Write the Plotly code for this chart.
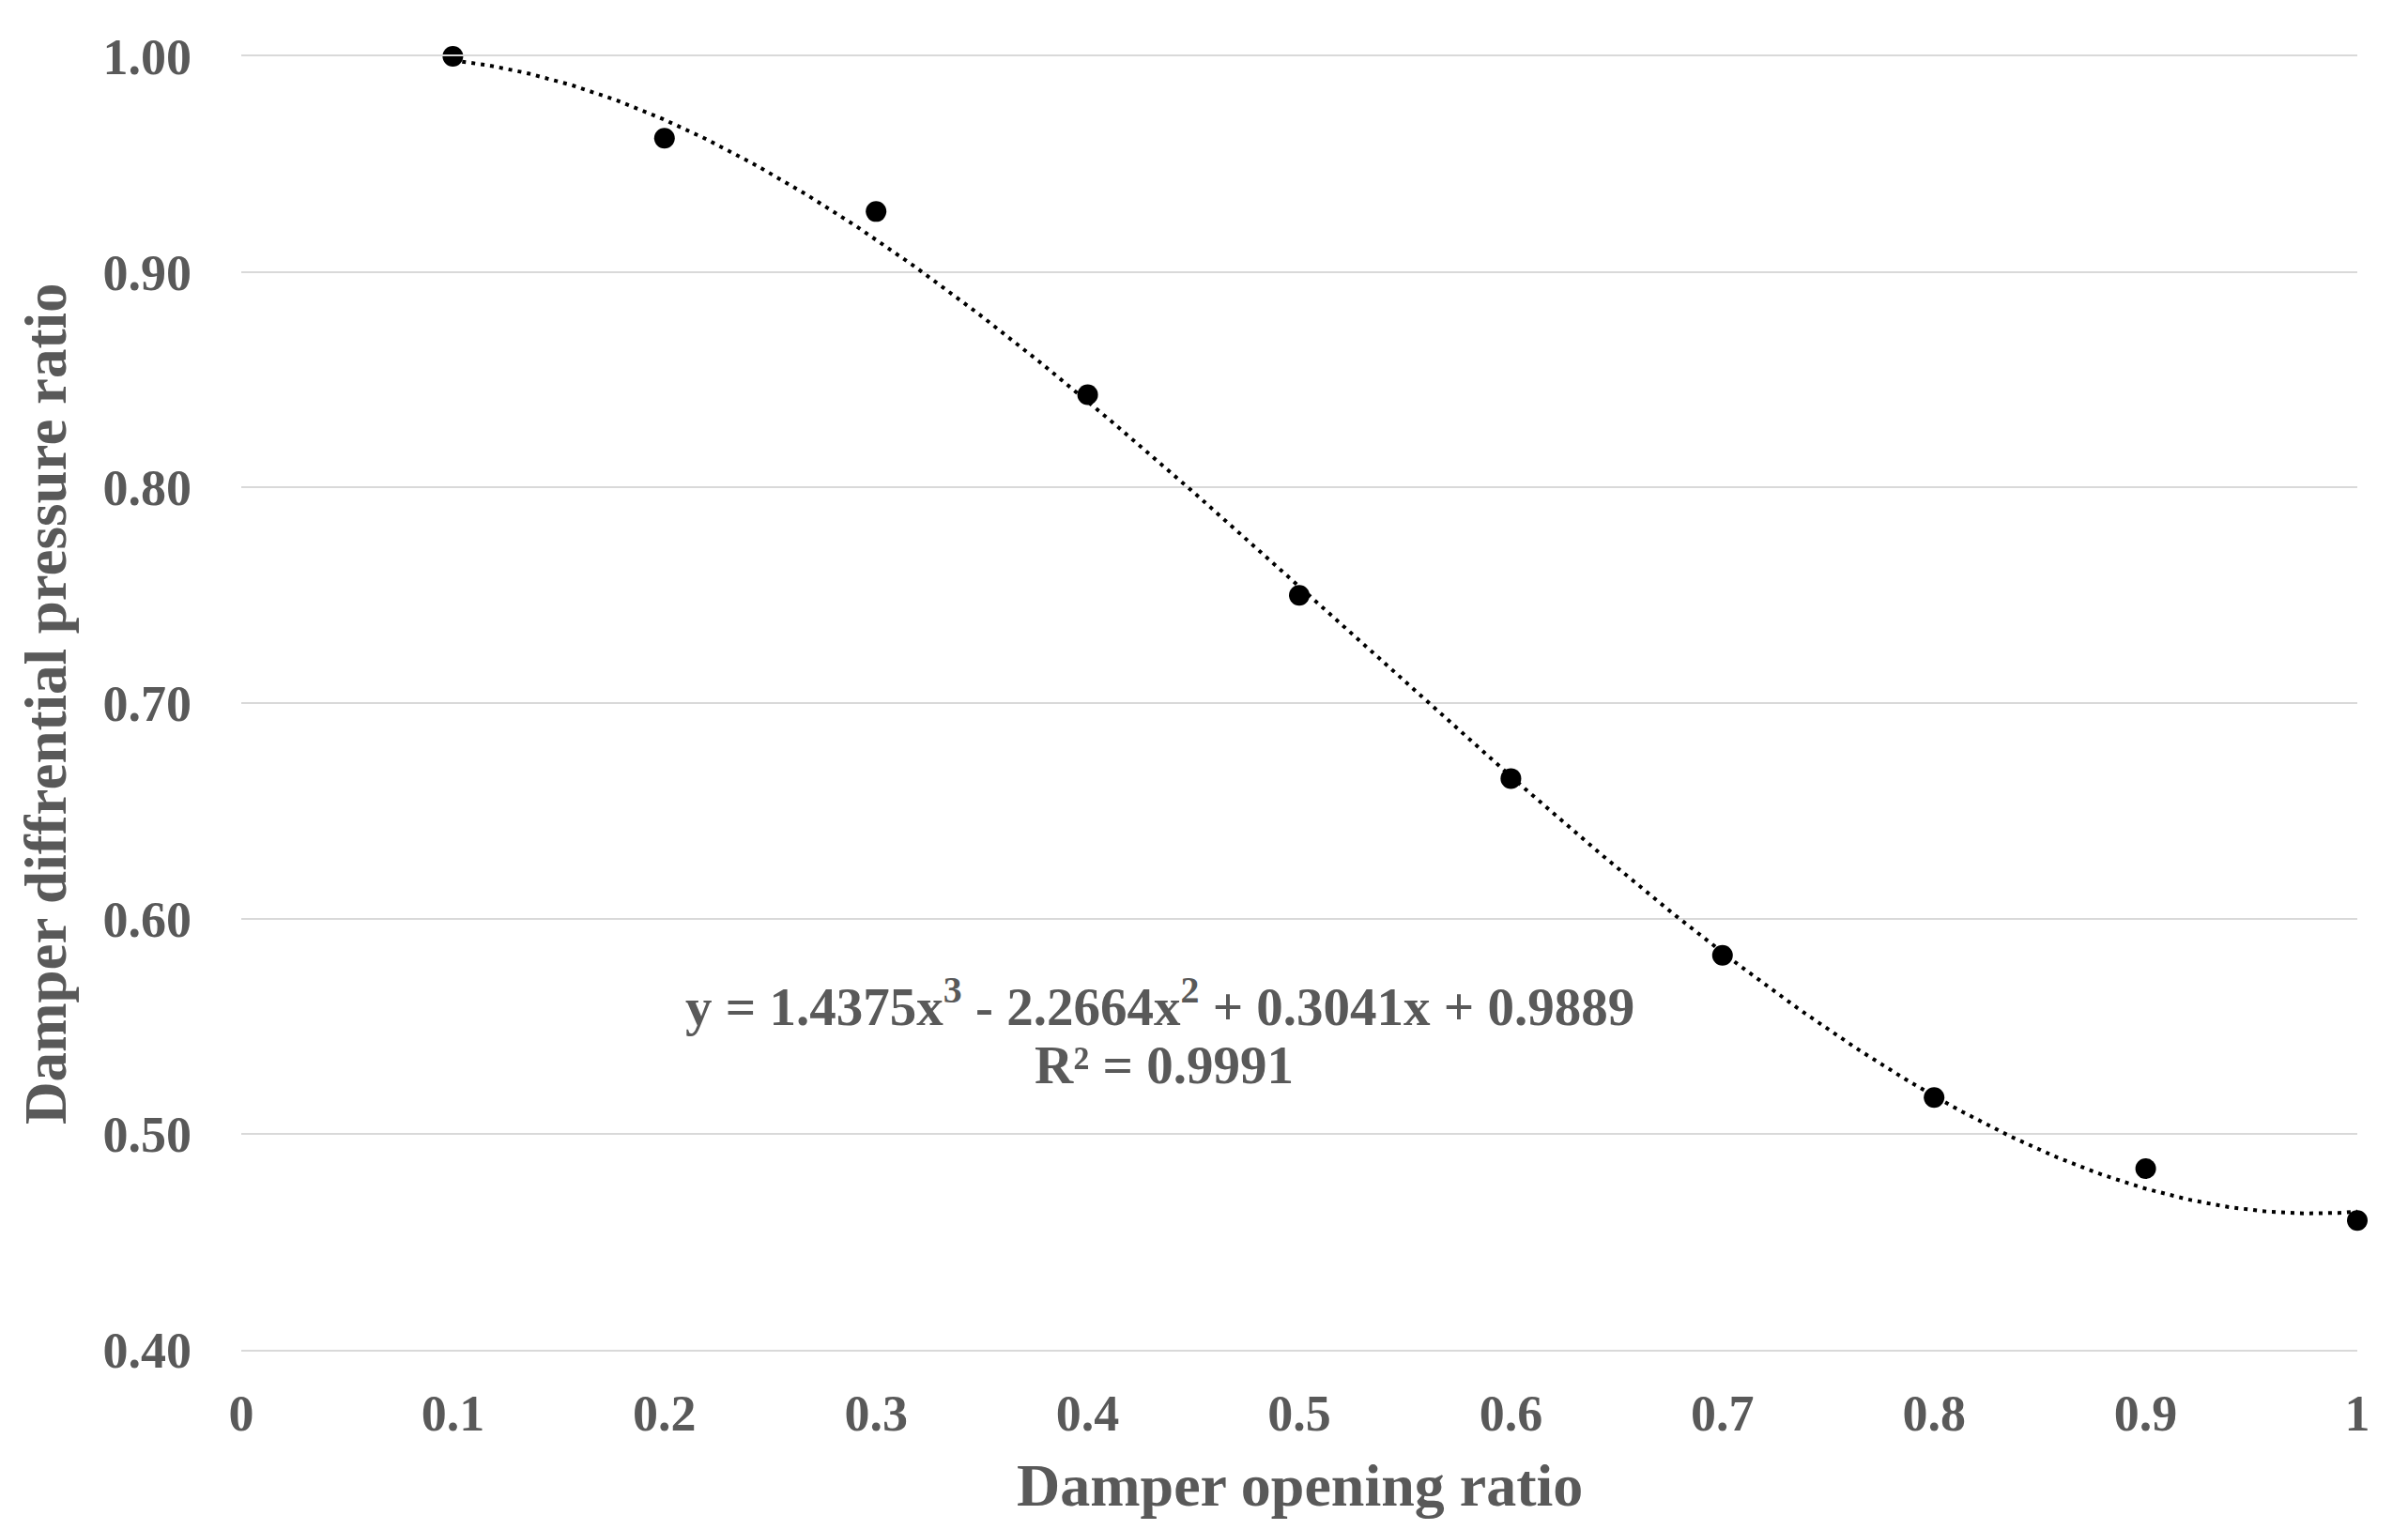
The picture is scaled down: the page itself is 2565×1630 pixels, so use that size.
import numpy as np
import plotly.graph_objects as go

# Data
opening_ratio = [0.1, 0.2, 0.3, 0.4, 0.5, 0.6, 0.7, 0.8, 0.9, 1.0]
pressure_ratio = [1.000, 0.962, 0.928, 0.843, 0.750, 0.665, 0.583, 0.517, 0.484, 0.460]

# Trendline coefficients shown on the chart (cubic, highest power first)
trend_coeffs = [1.4375, -2.2664, 0.3041, 0.9889]
r_squared = "0.9991"

x_ticks = [0, 0.1, 0.2, 0.3, 0.4, 0.5, 0.6, 0.7, 0.8, 0.9, 1]
x_ticktext = ["0", "0.1", "0.2", "0.3", "0.4", "0.5", "0.6", "0.7", "0.8", "0.9", "1"]
y_ticks = [0.4, 0.5, 0.6, 0.7, 0.8, 0.9, 1.0]
y_ticktext = ["0.40", "0.50", "0.60", "0.70", "0.80", "0.90", "1.00"]

FONT = "Liberation Serif, Times New Roman, serif"
TXT = "#595959"
GRID = "#d9d9d9"

trend_x = np.linspace(min(opening_ratio), max(opening_ratio), 300)
trend_y = np.polyval(trend_coeffs, trend_x)

fig = go.Figure()
fig.add_trace(go.Scatter(
    x=trend_x, y=trend_y, mode="lines",
    line=dict(color="black", width=4, dash="4px,6px"),
    hoverinfo="skip", showlegend=False, cliponaxis=False,
))
fig.add_trace(go.Scatter(
    x=opening_ratio, y=pressure_ratio, mode="markers",
    marker=dict(color="black", size=22),
    showlegend=False, cliponaxis=False,
))

fig.update_layout(
    width=2565, height=1630,
    margin=dict(l=257, r=54, t=60, b=192),
    paper_bgcolor="white", plot_bgcolor="white",
    font=dict(family=FONT, color=TXT),
    xaxis=dict(
        range=[0, 1], tickvals=x_ticks, ticktext=x_ticktext,
        showgrid=False, zeroline=False,
        showline=True, mirror=True, linecolor=GRID, linewidth=2,
        ticks="",
        tickfont=dict(family=FONT, size=54, color=TXT, weight="bold"),
        ticklabelstandoff=19,
    ),
    yaxis=dict(
        range=[0.4, 1.0], tickvals=y_ticks, ticktext=y_ticktext,
        showgrid=True, gridcolor=GRID, gridwidth=2,
        zeroline=False, showline=False, ticks="",
        tickfont=dict(family=FONT, size=54, color=TXT, weight="bold"),
        ticklabelstandoff=52,
    ),
    annotations=[
        dict(text="Damper opening ratio", xref="paper", yref="paper",
             x=0.5, y=-0.1052, xanchor="center", yanchor="middle", showarrow=False,
             font=dict(family=FONT, size=64, color=TXT, weight="bold")),
        dict(text="Damper diffrential pressure ratio", xref="paper", yref="paper",
             x=-0.0923, y=0.5, xanchor="center", yanchor="middle", showarrow=False,
             textangle=-90,
             font=dict(family=FONT, size=63, color=TXT, weight="bold")),
        dict(text="y = %.4fx<sup>3</sup> - %.4fx<sup>2</sup> + %.4fx + %.4f" % (
                trend_coeffs[0], -trend_coeffs[1], trend_coeffs[2], trend_coeffs[3]),
             xref="x", yref="y", x=0.4343, y=0.561, xanchor="center", yanchor="middle",
             showarrow=False,
             font=dict(family=FONT, size=57, color=TXT, weight="bold")),
        dict(text="R² = " + r_squared,
             xref="x", yref="y", x=0.436, y=0.532, xanchor="center", yanchor="middle",
             showarrow=False,
             font=dict(family=FONT, size=57, color=TXT, weight="bold")),
    ],
)

fig.write_html("out.html", config={"displayModeBar": False},
               post_script="document.body.style.margin='0';document.body.style.overflow='hidden';")
